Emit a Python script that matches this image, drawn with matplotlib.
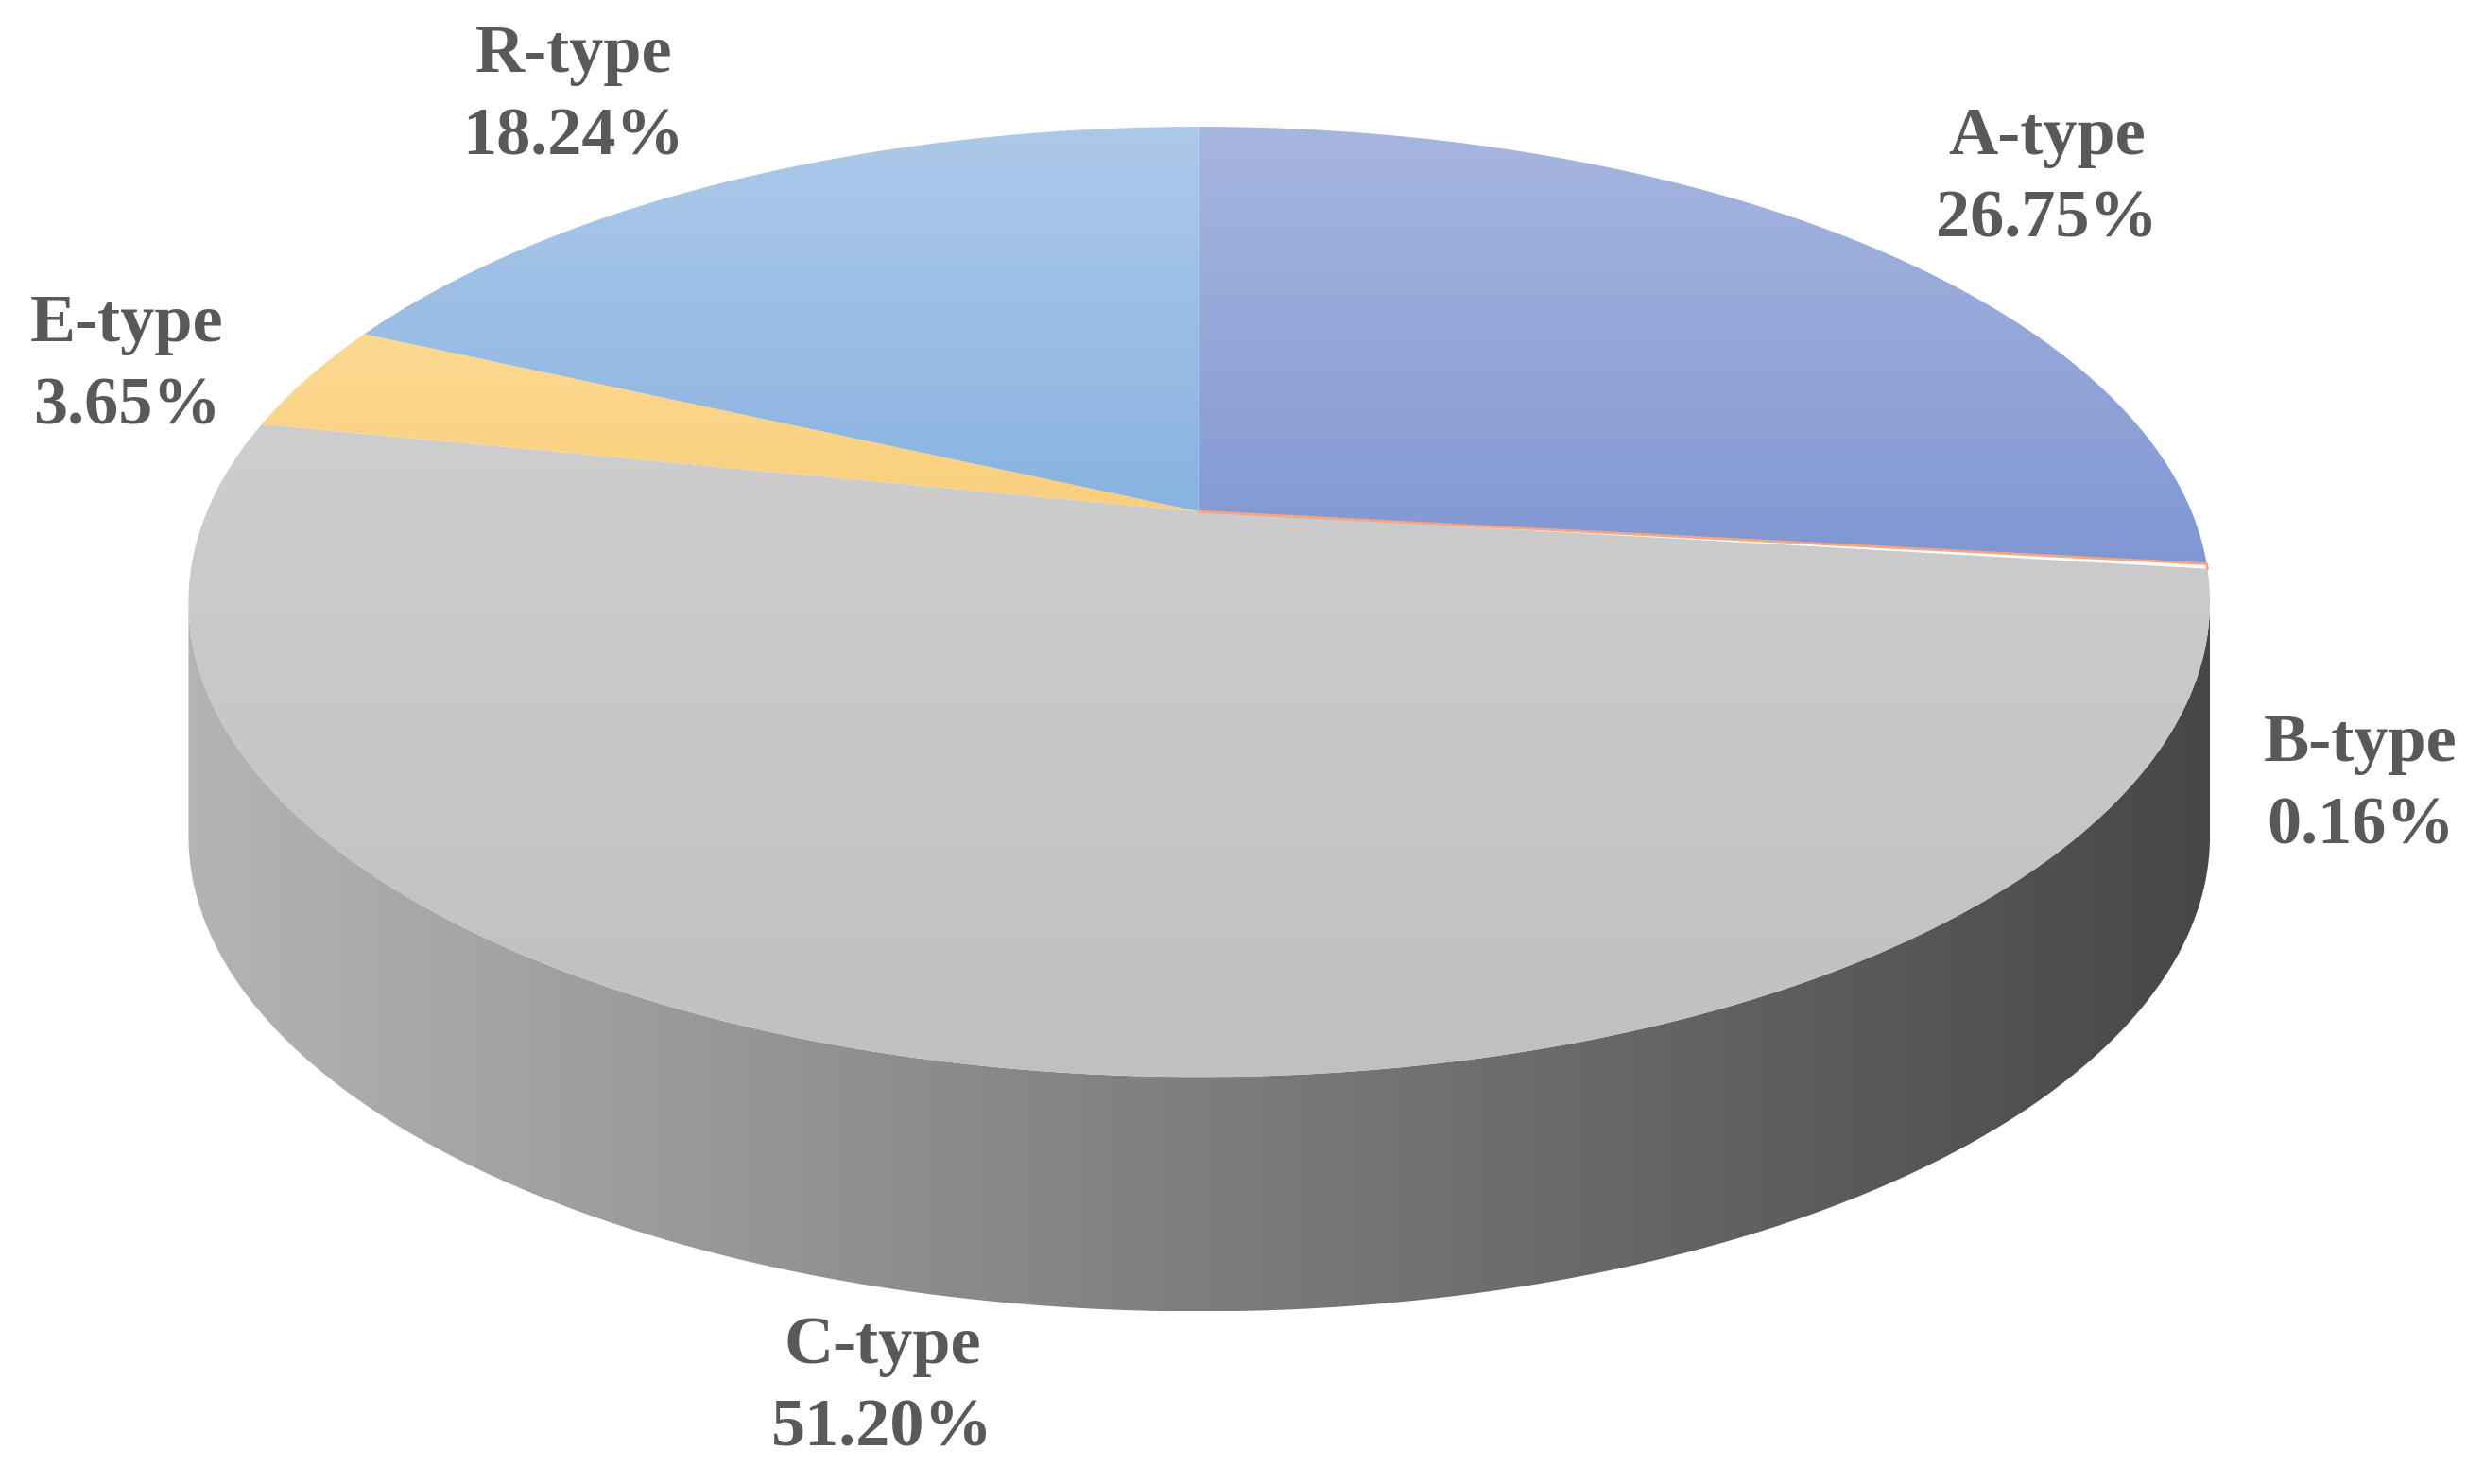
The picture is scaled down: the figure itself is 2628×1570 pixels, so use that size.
import numpy as np
import matplotlib
matplotlib.use("Agg")
import matplotlib.pyplot as plt
from matplotlib.patches import Polygon
from matplotlib.colors import LinearSegmentedColormap

categories = ["A-type", "B-type", "C-type", "E-type", "R-type"]
values = [26.75, 0.16, 51.20, 3.65, 18.24]
labels = ["26.75%", "0.16%", "51.20%", "3.65%", "18.24%"]
top_colors = [("#a6b6df", "#8197d3"), ("#f4a582", "#f4a582"), ("#cecece", "#c0c0c0"),
              ("#fcd992", "#f9cf7c"), ("#adc9e9", "#89b3e2")]
label_pos = [(1292, 113), (1490, 496), (557, 876), (80, 231), (362, 61)]

W, H = 1568, 937
fig = plt.figure(figsize=(26.28, 15.70), dpi=100)
ax = fig.add_axes([0, 0, 1, 1])
ax.set_xlim(0, W); ax.set_ylim(H, 0); ax.axis("off")

cx, cy, rx, ry = 757, 380, 638, 300
apx, apy = 757, 323
depth = 148

def ray_point(theta):
    dx, dy = np.cos(theta), -np.sin(theta) * ry / rx
    ox, oy = apx - cx, apy - cy
    a = (dx / rx) ** 2 + (dy / ry) ** 2
    b = 2 * (ox * dx / rx ** 2 + oy * dy / ry ** 2)
    c = (ox / rx) ** 2 + (oy / ry) ** 2 - 1
    t = (-b + np.sqrt(b * b - 4 * a * c)) / (2 * a)
    return apx + t * dx, apy + t * dy

def grad_fill(poly, c1, c2, vertical=True, z=1):
    cmap = LinearSegmentedColormap.from_list("g", [c1, c2])
    g = np.linspace(0, 1, 256)
    img = g[:, None] if vertical else g[None, :]
    xs, ys = poly[:, 0], poly[:, 1]
    im = ax.imshow(img, cmap=cmap, aspect="auto", zorder=z,
                   extent=(xs.min(), xs.max(), ys.max(), ys.min()))
    p = Polygon(poly, closed=True, facecolor="none", edgecolor="none")
    ax.add_patch(p)
    im.set_clip_path(p)

# side of the cylinder (front half)
ts = np.linspace(np.pi, 2 * np.pi, 300)
upper = np.column_stack([cx + rx * np.cos(ts), cy - ry * np.sin(ts)])
lower = upper[::-1] + [0, depth]
side = np.vstack([upper, lower])
grad_fill(side, "#b4b4b4", "#474747", vertical=False, z=1)

# top wedges
start = np.pi / 2
total = sum(values)
for v, (c1, c2) in zip(values, top_colors):
    sweep = v / total * 2 * np.pi
    th = np.linspace(start, start - sweep, max(3, int(400 * v / total)))
    pts = [ray_point(t) for t in th]
    poly = np.array([(apx, apy)] + pts)
    if v < 1:
        ax.plot(poly[:, 0], poly[:, 1], color=c1, lw=2, zorder=3)
    else:
        grad_fill(poly, c1, c2, vertical=True, z=2)
    start -= sweep

for cat, lab, (x, y) in zip(categories, labels, label_pos):
    ax.text(x, y, cat + "\n" + lab, ha="center", va="center", fontsize=52,
            fontweight="bold", family="Liberation Serif", color="#595959",
            linespacing=1.45, zorder=5)

fig.savefig("out.png", dpi=100)
